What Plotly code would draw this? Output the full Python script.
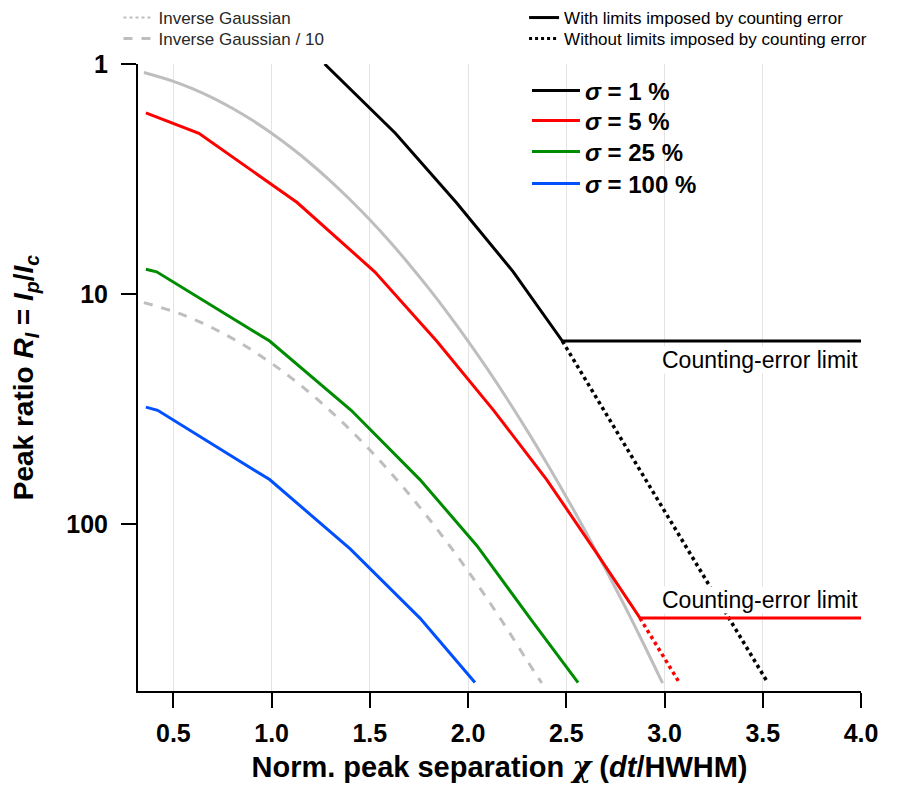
import plotly.graph_objects as go
import math

# ---------------- data ----------------
gray_x = [0.35, 0.5, 0.6, 0.7, 0.8, 0.9, 1.0, 1.1, 1.2, 1.3, 1.4, 1.5, 1.6, 1.7,
          1.8, 1.9, 2.0, 2.1, 2.2, 2.3, 2.4, 2.5, 2.6, 2.7, 2.8, 2.9, 2.99]
gray_y = [1.089, 1.189, 1.283, 1.404, 1.558, 1.753, 2.0, 2.313, 2.713, 3.227, 3.891,
          4.757, 5.897, 7.413, 9.448, 12.21, 16.0, 21.26, 28.64, 39.12, 54.19, 76.11,
          108.4, 156.5, 229.1, 340.1, 491.0]

gray10_x = [0.35, 0.5, 0.6, 0.7, 0.8, 0.9, 1.0, 1.1, 1.2, 1.3, 1.4, 1.5, 1.6, 1.7,
            1.8, 1.9, 2.0, 2.1, 2.2, 2.3, 2.375]
gray10_y = [10.89, 11.89, 12.83, 14.04, 15.58, 17.53, 20.0, 23.13, 27.13, 32.27, 38.91,
            47.57, 58.97, 74.13, 94.48, 122.1, 160.0, 212.6, 286.4, 391.2, 490.0]

black_x = [1.27, 1.63, 1.94, 2.23, 2.48, 4.0]
black_y = [1.0, 2.0, 4.0, 8.0, 16.0, 16.0]
black_dot_x = [2.48, 3.52]
black_dot_y = [16.0, 480.0]

red_x = [0.36, 0.63, 1.13, 1.525, 1.84, 2.13, 2.40, 2.64, 2.875, 4.0]
red_y = [1.63, 2.0, 4.0, 8.0, 16.0, 32.0, 64.0, 128.0, 256.0, 256.0]
red_dot_x = [2.875, 3.07]
red_dot_y = [256.0, 480.0]

green_x = [0.36, 0.415, 0.99, 1.405, 1.755, 2.045, 2.315, 2.56]
green_y = [7.8, 8.0, 16.0, 32.0, 64.0, 124.0, 256.0, 488.0]

blue_x = [0.36, 0.42, 0.99, 1.40, 1.755, 2.035]
blue_y = [31.0, 32.0, 64.0, 128.0, 256.0, 488.0]

x_ticks = [0.5, 1.0, 1.5, 2.0, 2.5, 3.0, 3.5, 4.0]
x_ticktext = ["0.5", "1.0", "1.5", "2.0", "2.5", "3.0", "3.5", "4.0"]
y_ticks = [1, 10, 100]
y_ticktext = ["1", "10", "100"]

limit_labels = ["Counting-error limit", "Counting-error limit"]
limit_values = [16.0, 256.0]

sigma_names = ["<i>σ</i> = 1 %", "<i>σ</i> = 5 %", "<i>σ</i> = 25 %", "<i>σ</i> = 100 %"]
top_left_names = ["Inverse Gaussian", "Inverse Gaussian / 10"]
top_right_names = ["With limits imposed by counting error",
                   "Without limits imposed by counting error"]

# ---------------- styling ----------------
FONT = "Liberation Sans, Arial, sans-serif"
GRAY = "rgb(190,190,190)"
BLACK = "black"
RED = "rgb(255,0,0)"
GREEN = "rgb(0,140,0)"
BLUE = "rgb(0,80,255)"
LW = 3

fig = go.Figure()

# inverse gaussian curves
fig.add_trace(go.Scatter(x=gray_x, y=gray_y, mode="lines",
                         line=dict(color=GRAY, width=LW, shape="spline"),
                         showlegend=False, hoverinfo="skip"))
fig.add_trace(go.Scatter(x=gray10_x, y=gray10_y, mode="lines",
                         line=dict(color=GRAY, width=LW, dash="dash", shape="spline"),
                         showlegend=False, hoverinfo="skip"))

# dotted continuations
fig.add_trace(go.Scatter(x=red_dot_x, y=red_dot_y, mode="lines",
                         line=dict(color=RED, width=3.5, dash="dot"), showlegend=False))
fig.add_trace(go.Scatter(x=black_dot_x, y=black_dot_y, mode="lines",
                         line=dict(color=BLACK, width=3.5, dash="dot"), showlegend=False))

# sigma curves (each in its own one-row legend so rows can be placed like the reference)
sigma_series = [(blue_x, blue_y, BLUE, sigma_names[3], "legend4"),
                (green_x, green_y, GREEN, sigma_names[2], "legend3"),
                (red_x, red_y, RED, sigma_names[1], "legend2"),
                (black_x, black_y, BLACK, sigma_names[0], "legend")]
for xs, ys, col, nm, lg in sigma_series:
    fig.add_trace(go.Scatter(x=xs, y=ys, mode="lines", name=nm,
                             line=dict(color=col, width=LW), legend=lg))

# legend-only entries
fig.add_trace(go.Scatter(x=[None], y=[None], mode="lines", name=top_left_names[0],
                         line=dict(color=GRAY, width=2, dash="dot"), legend="legend5"))
fig.add_trace(go.Scatter(x=[None], y=[None], mode="lines", name=top_left_names[1],
                         line=dict(color=GRAY, width=3, dash="dash"), legend="legend6"))
fig.add_trace(go.Scatter(x=[None], y=[None], mode="lines", name=top_right_names[0],
                         line=dict(color=BLACK, width=3), legend="legend7"))
fig.add_trace(go.Scatter(x=[None], y=[None], mode="lines", name=top_right_names[1],
                         line=dict(color=BLACK, width=3, dash="dot"), legend="legend8"))

# counting-error limit labels
fig.add_annotation(x=4.0, y=math.log10(limit_values[0]), xref="x", yref="y",
                   text=limit_labels[0], showarrow=False, xanchor="right", yanchor="top",
                   yshift=-5, xshift=-2, font=dict(size=23, family=FONT, color="black"),
                   bgcolor="white", borderpad=0)
fig.add_annotation(x=4.0, y=math.log10(limit_values[1]), xref="x", yref="y",
                   text=limit_labels[1], showarrow=False, xanchor="right", yanchor="bottom",
                   yshift=4, xshift=-2, font=dict(size=23, family=FONT, color="black"),
                   bgcolor="white", borderpad=0)


def leg(x, y, size, bold=False, width=30, color="black"):
    f = dict(size=size, family=FONT, color=color)
    if bold:
        f["weight"] = "bold"
    return dict(x=x, y=y, xanchor="left", yanchor="middle", font=f,
                bgcolor="rgba(0,0,0,0)", itemwidth=width, borderwidth=0)


PLOT_TOP, PLOT_H = 64, 627


def py2paper(py):
    return 1 - (py - PLOT_TOP) / PLOT_H


fig.update_layout(
    width=913, height=785,
    margin=dict(l=138, r=52, t=64, b=94, autoexpand=False),
    paper_bgcolor="white", plot_bgcolor="white",
    font=dict(family=FONT, color="black"),
    showlegend=True,
    legend=leg(0.538, py2paper(91), 24, True, 48),
    legend2=leg(0.538, py2paper(121), 24, True, 48),
    legend3=leg(0.538, py2paper(152), 24, True, 48),
    legend4=leg(0.538, py2paper(184), 24, True, 48),
    legend5=leg(-0.027, py2paper(18), 17, False, 30, "rgb(40,40,40)"),
    legend6=leg(-0.027, py2paper(39), 17, False, 30, "rgb(40,40,40)"),
    legend7=leg(0.534, py2paper(18), 17),
    legend8=leg(0.534, py2paper(39), 17),
    xaxis=dict(range=[0.32, 4.0], tickvals=x_ticks, ticktext=x_ticktext,
               showgrid=True, gridcolor="rgb(228,228,228)", gridwidth=1,
               zeroline=False, showline=True, linecolor="black", linewidth=2,
               ticks="outside", ticklen=15, tickwidth=2, tickcolor="black",
               ticklabelstandoff=4, automargin=False,
               tickfont=dict(size=25, family=FONT, color="black", weight="bold"),
               title=dict(text="Norm. peak separation <span style=\"font-family:DejaVu Serif\"><i>χ</i></span> (<i>dt</i>/HWHM)",
                          font=dict(size=29, family=FONT, color="black", weight="bold"),
                          standoff=11)),
    yaxis=dict(type="log", range=[math.log10(531), 0], tickvals=y_ticks, ticktext=y_ticktext,
               showgrid=False, zeroline=False, showline=True, linecolor="black", linewidth=2,
               ticks="outside", ticklen=15, tickwidth=2, tickcolor="black",
               ticklabelstandoff=8, automargin=False,
               tickfont=dict(size=25, family=FONT, color="black", weight="bold"),
               title=dict(text="Peak ratio <i>R<sub>I</sub></i> = <i>I<sub>p</sub></i>/<i>I<sub>c</sub></i>",
                          font=dict(size=28, family=FONT, color="black", weight="bold"),
                          standoff=24)),
)

fig.write_html("out.html", config={"displayModeBar": False},
               post_script="document.body.style.margin='0';")
